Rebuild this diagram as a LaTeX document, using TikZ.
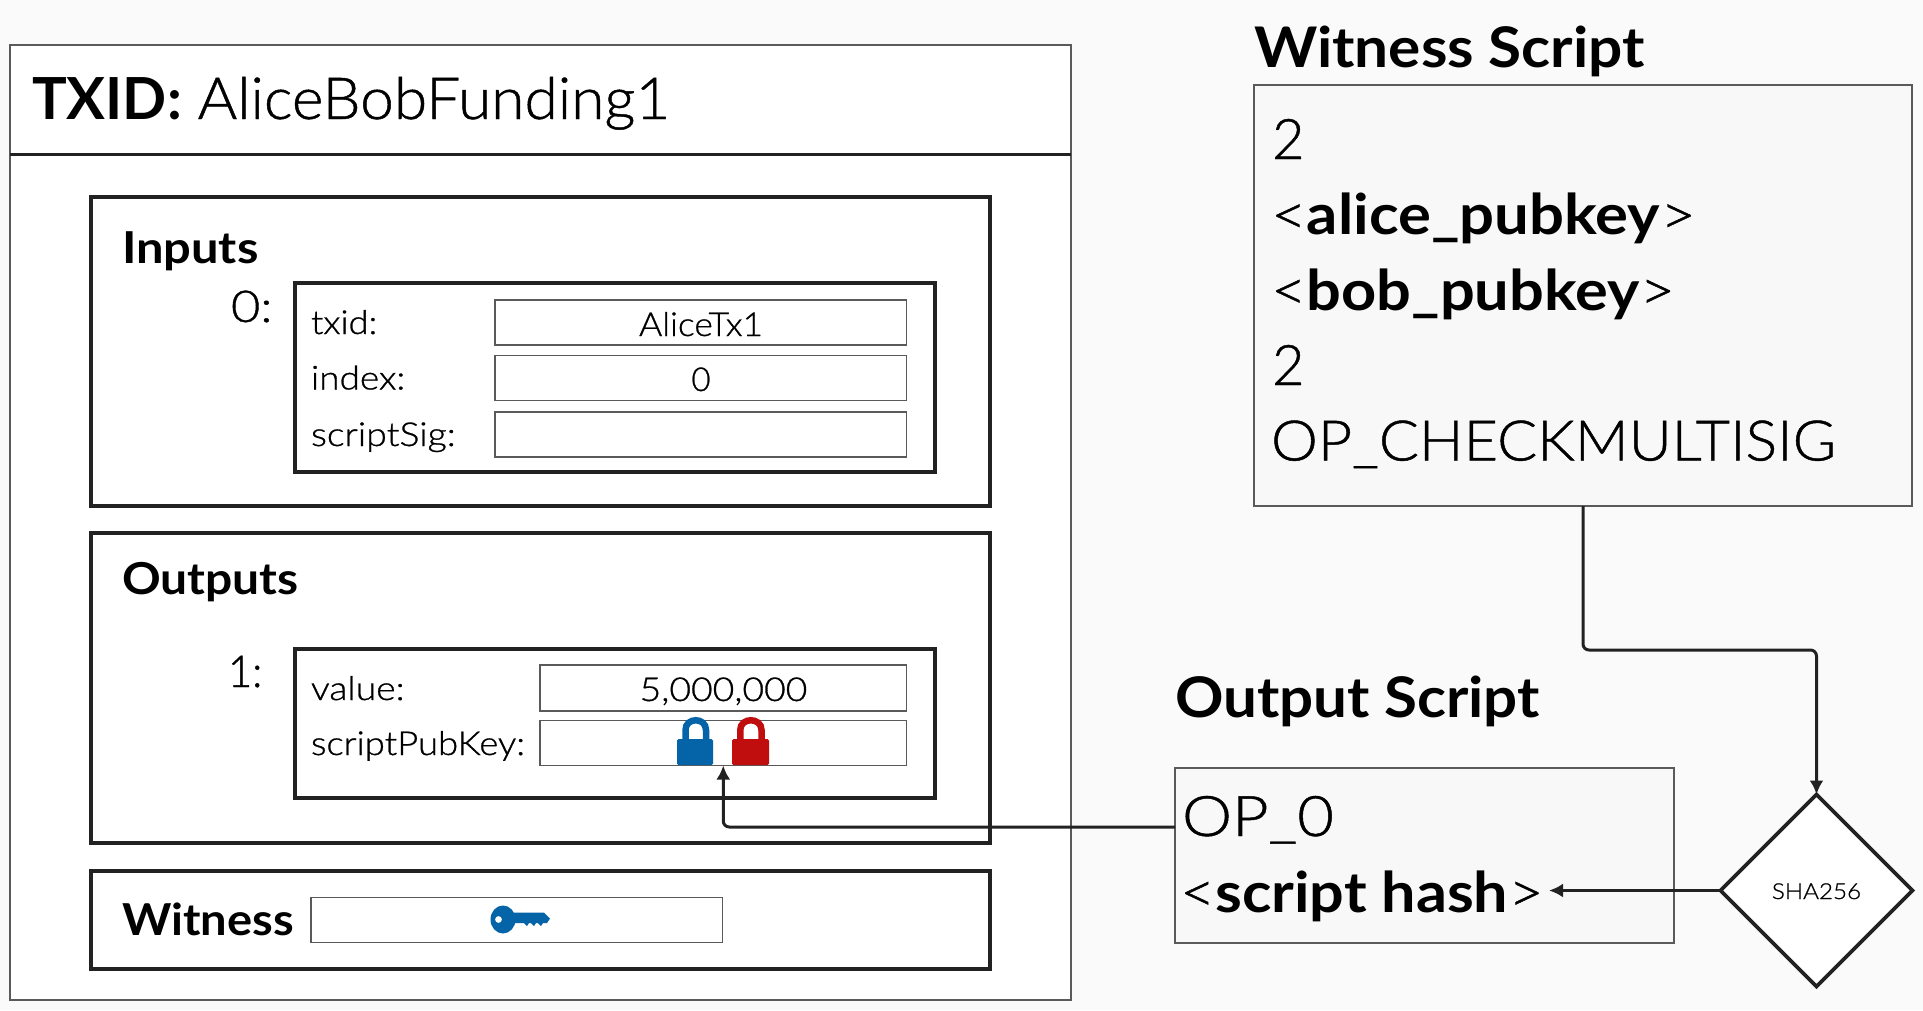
\documentclass[tikz,border=0pt]{standalone}
\usepackage{fontspec}
\usepackage{graphicx}
\usetikzlibrary{arrows.meta,shapes.geometric}
\setmainfont{Lato Light}[BoldFont=Lato Bold,UprightFeatures={FakeBold=0.8}]
\definecolor{bg}{HTML}{FAFAFA}
\definecolor{panel}{HTML}{F8F8F8}
\definecolor{ink}{HTML}{222222}
\definecolor{thin}{HTML}{5A5A5A}
\definecolor{lockblue}{HTML}{0563A8}
\definecolor{lockred}{HTML}{C00D0D}
\newcommand{\fs}[1]{\fontsize{#1}{#1}\selectfont}
\newcommand{\sx}[2]{\scalebox{#1}[1]{#2}}
\tikzset{
 thinbox/.style={draw=thin,line width=1.2pt,fill=white,inner sep=0,outer sep=0},
 fieldbox/.style={thinbox},
 panelbox/.style={thinbox,fill=panel},
 heavybox/.style={draw=ink,line width=3.6pt,fill=white,inner sep=0,outer sep=0},
 txt/.style={anchor=base west,inner sep=0,outer sep=0,text=black},
 ctxt/.style={anchor=base,inner sep=0,outer sep=0,text=black},
 conn/.style={draw=ink,line width=3pt,rounded corners=6pt,-{Latex[length=14pt,width=14pt]}},
}
\begin{document}
\begin{tikzpicture}[x=1pt,y=-1pt]
\useasboundingbox (0,0) rectangle (1923,1010);
\fill[bg] (0,0) rectangle (1923,1010);
% transaction
\node[thinbox,minimum width=1061pt,minimum height=955pt] (tx) at (540.5,522.5) {};
\draw[ink,line width=3pt] (tx.west |- 0,154) -- (tx.east |- 0,154);
\node[txt] (title) at (32,119) {\fs{58}\textbf{TXID:} \sx{1.042}{AliceBobFunding1}};
% inputs
\node[heavybox,minimum width=899pt,minimum height=309pt] (inputs) at (540.5,351.5) {};
\node[txt] (inputslbl) at (122,263) {\fs{44}\sx{1.11}{\textbf{Inputs}}};
\node[txt] (in0lbl) at (231,322) {\fs{44}\sx{1.15}{0:}};
\node[heavybox,minimum width=640pt,minimum height=189pt] (in0) at (615,377.5) {};
\node[fieldbox,minimum width=411.5pt,minimum height=45pt] (ftxid) at (700.75,322.5) {};
\node[fieldbox,minimum width=411.5pt,minimum height=45pt] (findex) at (700.75,378) {};
\node[fieldbox,minimum width=411.5pt,minimum height=45pt] (fsig) at (700.75,434.5) {};
\node[txt] (ltxid) at (311,334) {\fs{33}\sx{1.1}{txid:}};
\node[txt] (lindex) at (311,389.5) {\fs{33}\sx{1.12}{index:}};
\node[txt] (lsig) at (311,446) {\fs{33}\sx{1.135}{scriptSig:}};
\node[ctxt] (vtxid) at (701,336) {\fs{33}\sx{1.075}{AliceTx1}};
\node[ctxt] (vindex) at (701,391) {\fs{33}0};
% outputs
\node[heavybox,minimum width=899pt,minimum height=310pt] (outputs) at (540.5,688) {};
\node[txt] (outputslbl) at (122,594) {\fs{44}\sx{1.09}{\textbf{Outputs}}};
\node[txt] (out1lbl) at (228,687) {\fs{44}\sx{0.95}{1:}};
\node[heavybox,minimum width=640pt,minimum height=149pt] (out1) at (615,723.5) {};
\node[fieldbox,minimum width=366.5pt,minimum height=46pt] (fvalue) at (723.25,688) {};
\node[fieldbox,minimum width=366.5pt,minimum height=45pt] (fspk) at (723.25,743) {};
\node[txt] (lvalue) at (311,700) {\fs{33}\sx{1.13}{value:}};
\node[txt] (lspk) at (311,755) {\fs{33}\sx{1.105}{scriptPubKey:}};
\node[ctxt] (vvalue) at (723.5,701) {\fs{33}\sx{1.13}{5,000,000}};
% locks
\fill[lockblue,rounded corners=1.5pt] (677,739) rectangle (713,765);
\draw[lockblue,line width=6.5pt] (685.5,741) -- (685.5,730) .. controls (685.5,717) and (706,717) .. (706,730) -- (706,741);
\fill[lockred,rounded corners=1.5pt] (732,739) rectangle (769,765);
\draw[lockred,line width=6.5pt] (740.25,741) -- (740.25,730) .. controls (740.25,717) and (761.5,717) .. (761.5,730) -- (761.5,741);
% witness
\node[heavybox,minimum width=899pt,minimum height=98pt] (witness) at (540.5,920) {};
\node[txt] (witnesslbl) at (122,935) {\fs{44}\sx{1.07}{\textbf{Witness}}};
\node[fieldbox,minimum width=411.5pt,minimum height=45pt] (fwit) at (516.75,920) {};
% key
\fill[lockblue,even odd rule] (503,919.5) ellipse[x radius=12.5,y radius=14] (498.5,919.5) circle[radius=3.5];
\fill[lockblue] (508,912.5) -- (544,912.5) -- (550,918.5) -- (547,923) -- (543,923) -- (541,926) -- (538,923) -- (536,923) -- (534,926) -- (531,923) -- (529,923) -- (527,926) -- (524,923) -- (508,923) -- cycle;
% witness script
\node[txt] (wstitle) at (1254,67) {\fs{56}\sx{1.077}{\textbf{Witness Script}}};
\node[panelbox,minimum width=658pt,minimum height=421pt] (ws) at (1583,295.5) {};
\node[txt] (ws1) at (1272,159) {\fs{56}2};
\node[txt] (ws2) at (1271,234.5) {\fs{56}\sx{1.10}{<\textbf{alice\_pubkey}>}};
\node[txt] (ws3) at (1271,310) {\fs{56}\sx{1.095}{<\textbf{bob\_pubkey}>}};
\node[txt] (ws4) at (1272,385) {\fs{56}2};
\node[txt] (ws5) at (1271,460.5) {\fs{56}\sx{1.058}{OP\_CHECKMULTISIG}};
% output script
\node[txt] (ostitle) at (1175,717) {\fs{56}\sx{1.073}{\textbf{Output Script}}};
\node[panelbox,minimum width=499pt,minimum height=175pt] (os) at (1424.5,855.5) {};
\node[txt] (os1) at (1182,836) {\fs{56}\sx{1.13}{OP\_0}};
\node[txt] (os2) at (1180,912) {\fs{56}\sx{1.09}{<\textbf{script hash}>}};
% hash
\node[diamond,aspect=1,draw=ink,line width=3.6pt,fill=white,inner sep=0,outer sep=0,minimum width=192pt,minimum height=192pt] (sha) at (1816.5,890.5) {};
\node[ctxt] (shalbl) at (1816.5,899) {\fs{22}\sx{1.1}{SHA256}};
% connectors
\coordinate (bend) at (1700,650);
\coordinate (osport) at (1175,827);
\coordinate (hashport) at (1549,890.5);
\draw[conn] (ws.south) |- (bend) -| (sha.north);
\draw[conn] (osport) -| (fspk.south);
\draw[conn] (sha.west) -- (hashport);
\end{tikzpicture}
\end{document}
